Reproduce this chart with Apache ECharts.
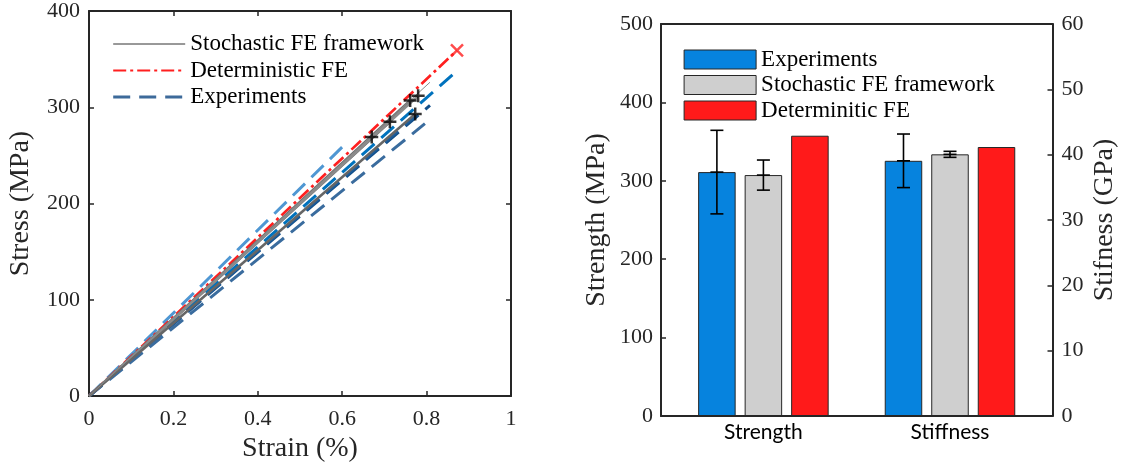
<!DOCTYPE html>
<html><head><meta charset="utf-8">
<script src="https://cdn.jsdelivr.net/npm/echarts@6/dist/echarts.min.js"></script>
<style>html,body{margin:0;padding:0;background:#fff}#c{width:1123px;height:468px}</style>
</head><body><div id="c"></div>
<script>
// ---------- Left panel data (stress-strain) ----------
const strainTicks = [0, 0.2, 0.4, 0.6, 0.8, 1];
const stressTicks = [0, 100, 200, 300, 400];
// Experiments: straight curves from origin to failure point
const expStrain = [0.603, 0.870, 0.808, 0.776, 0.796];
const expStress = [260, 337, 302, 292, 283];
// Deterministic FE end point
const detStrain = [0, 0.872];
const detStress = [0, 359];
// Stochastic FE realisations (end points)
const stochStrain = [0.670, 0.713, 0.761, 0.780, 0.773, 0.808];
const stochStress = [269, 285, 307, 312, 293, 326];
const stochFailed = [true, true, true, true, true, false];

// ---------- Right panel data (bars) ----------
const barCategories = ['Strength', 'Stiffness'];
const groupNames = ['Experiments', 'Stochastic FE framework', 'Determinitic FE'];
const strengthMean = [311.1, 307.3, 357.5];
const strengthErr = [53.3, 19.2, null];
const stiffnessMean = [39.06, 40.05, 41.17];
const stiffnessErr = [4.1, 0.46, null];

// ---------- styles ----------
const SERIF = 'Liberation Serif';
const INK = '#262626';
const expColors = ['#4f97d3', '#0072bd', '#124f8a', '#1d5d9b', '#3a6c9e'];
const stochColors = ['#7a7a7a', '#5c5c5c', '#6e6e6e', '#8c8c8c', '#666666', '#8a8a8a'];
const barColors = ['#0683de', '#cfcfcf', '#ff1a1a'];
const BAR_W = 0.201, BAR_GAP = 0.24, CAP = 13;

const series = [];
// Experiments
expStrain.forEach((s, i) => {
  series.push({
    type: 'line', name: 'Experiments', xAxisIndex: 0, yAxisIndex: 0,
    data: [[0, 0], [s, expStress[i]]], symbol: 'none', silent: true,
    lineStyle: { color: expColors[i], width: 3, type: [17, 9], cap: 'butt' }, z: 2
  });
});
// Deterministic
series.push({
  type: 'line', name: 'Deterministic FE', xAxisIndex: 0, yAxisIndex: 0,
  data: detStrain.map((s, i) => [s, detStress[i]]), symbol: 'none', silent: true,
  lineStyle: { color: '#ff1f1f', width: 2.7, type: [13, 4, 3, 4] }, z: 3
});
series.push({
  type: 'scatter', name: 'detEnd', xAxisIndex: 0, yAxisIndex: 0, silent: true,
  data: [[detStrain[1], detStress[1]]],
  symbol: 'path://M-1,-1L1,1M-1,1L1,-1', symbolSize: 12,
  itemStyle: { color: 'none', borderColor: '#ff1f1f', borderWidth: 2.5 }, z: 5
});
// Stochastic
stochStrain.forEach((s, i) => {
  series.push({
    type: 'line', name: 'Stochastic FE framework', xAxisIndex: 0, yAxisIndex: 0,
    data: [[0, 0], [s, stochStress[i]]], symbol: 'none', silent: true,
    lineStyle: { color: stochColors[i], width: i === 5 ? 1 : 2.6 }, z: 4
  });
});
series.push({
  type: 'scatter', name: 'stochEnd', xAxisIndex: 0, yAxisIndex: 0, silent: true,
  data: stochStrain.map((s, i) => [s, stochStress[i]]).filter((d, i) => stochFailed[i]),
  symbol: 'path://M0,-1L0,1M-1,0L1,0', symbolSize: 13,
  itemStyle: { color: 'none', borderColor: '#000', borderWidth: 2.5 }, z: 6
});

// Bars
groupNames.forEach((g, i) => {
  series.push({
    type: 'bar', name: 'bar:' + g, xAxisIndex: 2, yAxisIndex: 2,
    data: [strengthMean[i], '-'], barWidth: (BAR_W * 100) + '%', barGap: (BAR_GAP * 100) + '%',
    itemStyle: { color: barColors[i], borderColor: INK, borderWidth: 1 }, silent: true
  });
});
groupNames.forEach((g, i) => {
  series.push({
    type: 'bar', name: 'bar:' + g, xAxisIndex: 3, yAxisIndex: 3,
    data: ['-', stiffnessMean[i]], barWidth: (BAR_W * 100) + '%', barGap: (BAR_GAP * 100) + '%',
    itemStyle: { color: barColors[i], borderColor: INK, borderWidth: 1 }, silent: true
  });
});

function errRender(params, api) {
  const cat = api.value(0), mean = api.value(1), err = api.value(2), slot = api.value(3);
  const band = api.size([1, 0])[0];
  const bw = band * BAR_W;
  const step = bw * (1 + BAR_GAP);
  const c = api.coord([cat, mean]);
  const x = c[0] + (slot - 1) * step;
  const yT = api.coord([cat, mean + err])[1];
  const yB = api.coord([cat, mean - err])[1];
  const ym = c[1];
  const st = { stroke: '#000', lineWidth: 1.6 };
  const h = CAP / 2;
  return { type: 'group', children: [
    { type: 'line', shape: { x1: x, y1: yT, x2: x, y2: yB }, style: st },
    { type: 'line', shape: { x1: x - h, y1: yT, x2: x + h, y2: yT }, style: st },
    { type: 'line', shape: { x1: x - h, y1: yB, x2: x + h, y2: yB }, style: st },
    { type: 'line', shape: { x1: x - h, y1: ym, x2: x + h, y2: ym }, style: st }
  ]};
}
const strengthErrData = [], stiffnessErrData = [];
groupNames.forEach((g, i) => {
  if (strengthErr[i] != null) strengthErrData.push([0, strengthMean[i], strengthErr[i], i]);
  if (stiffnessErr[i] != null) stiffnessErrData.push([1, stiffnessMean[i], stiffnessErr[i], i]);
});
series.push({ type: 'custom', name: 'errS', xAxisIndex: 2, yAxisIndex: 2, renderItem: errRender,
  data: strengthErrData, silent: true, z: 10 });
series.push({ type: 'custom', name: 'errK', xAxisIndex: 3, yAxisIndex: 3, renderItem: errRender,
  data: stiffnessErrData, silent: true, z: 10 });

const tickLbl = { fontFamily: SERIF, fontSize: 22, color: INK };
const titleTxt = { fontFamily: SERIF, fontSize: 28, color: INK };
const axLine = { show: true, onZero: false, lineStyle: { color: INK, width: 2 } };
const noLine = { show: false, onZero: false };
const inTick = { show: true, inside: true, length: 5, lineStyle: { color: INK, width: 1.5 } };
const noSplit = { show: false };

const option = {
  animation: false,
  backgroundColor: '#fff',
  grid: [
    { left: 89, top: 10, width: 422, height: 387 },          // left panel
    { left: 670.1, top: 24, width: 373.2, height: 392 },     // bars data area
    { left: 661, top: 24, width: 391.5, height: 392 }        // right frame
  ],
  xAxis: [
    { gridIndex: 0, type: 'value', min: 0, max: 1, interval: 0.2, position: 'bottom',
      axisLine: axLine, axisTick: inTick,
      axisLabel: Object.assign({ margin: 12 }, tickLbl), splitLine: noSplit,
      name: 'Strain (%)', nameLocation: 'middle', nameGap: 36, nameTextStyle: titleTxt },
    { gridIndex: 0, type: 'value', min: 0, max: 1, interval: 0.2, position: 'top',
      axisLine: axLine, axisTick: inTick,
      axisLabel: { show: false }, splitLine: noSplit },
    { gridIndex: 1, type: 'category', data: barCategories, position: 'bottom',
      axisLine: noLine, axisTick: { show: false },
      axisLabel: { margin: 6, fontFamily: 'Lato', fontSize: 21, color: '#000' } },
    { gridIndex: 1, type: 'category', data: barCategories, show: false, axisLine: noLine },
    { gridIndex: 2, type: 'value', min: 0, max: 1, position: 'bottom', z: 20,
      axisLine: axLine, axisTick: { show: false }, axisLabel: { show: false }, splitLine: noSplit },
    { gridIndex: 2, type: 'value', min: 0, max: 1, position: 'top', z: 20,
      axisLine: axLine, axisTick: { show: false }, axisLabel: { show: false }, splitLine: noSplit }
  ],
  yAxis: [
    { gridIndex: 0, type: 'value', min: 0, max: 400, interval: 100, position: 'left',
      axisLine: axLine, axisTick: inTick,
      axisLabel: Object.assign({ margin: 9 }, tickLbl), splitLine: noSplit,
      name: 'Stress (MPa)', nameLocation: 'middle', nameRotate: 90, nameGap: 54, nameTextStyle: titleTxt },
    { gridIndex: 0, type: 'value', min: 0, max: 400, interval: 100, position: 'right',
      axisLine: axLine, axisTick: inTick,
      axisLabel: { show: false }, splitLine: noSplit },
    { gridIndex: 1, type: 'value', min: 0, max: 500, interval: 100, position: 'left', offset: 9.1,
      axisLine: noLine, axisTick: inTick,
      axisLabel: Object.assign({ margin: 8 }, tickLbl), splitLine: noSplit,
      name: 'Strength (MPa)', nameLocation: 'middle', nameRotate: 90, nameGap: 50, nameTextStyle: titleTxt },
    { gridIndex: 1, type: 'value', min: 0, max: 60, interval: 10, position: 'right', offset: 9.2,
      axisLine: noLine, axisTick: inTick,
      axisLabel: Object.assign({ margin: 9 }, tickLbl), splitLine: noSplit,
      name: 'Stifness (GPa)', nameLocation: 'middle', nameRotate: 90, nameGap: 38, nameTextStyle: titleTxt },
    { gridIndex: 2, type: 'value', min: 0, max: 1, position: 'left', z: 20,
      axisLine: axLine, axisTick: { show: false }, axisLabel: { show: false }, splitLine: noSplit },
    { gridIndex: 2, type: 'value', min: 0, max: 1, position: 'right', z: 20,
      axisLine: axLine, axisTick: { show: false }, axisLabel: { show: false }, splitLine: noSplit }
  ],
  legend: [
    { left: 111.7, top: 32.5, padding: 0, orient: 'vertical', itemWidth: 72, itemHeight: 14, itemGap: 3.5,
      selectedMode: false, itemStyle: { opacity: 0 },
      textStyle: { fontFamily: SERIF, fontSize: 23, lineHeight: 23, color: '#000' },
      data: [
        { name: 'Stochastic FE framework', lineStyle: { color: '#333333', width: 1, type: 'solid' } },
        { name: 'Deterministic FE' },
        { name: 'Experiments', lineStyle: { color: '#3d6a9a', width: 3 } }
      ] },
    { left: 683.6, top: 48, padding: 0, orient: 'vertical', itemWidth: 72, itemHeight: 19, itemGap: 2.5,
      selectedMode: false, icon: 'rect',
      itemStyle: { borderColor: INK, borderWidth: 1 },
      formatter: n => n.slice(4),
      textStyle: { fontFamily: SERIF, fontSize: 23, lineHeight: 23, color: '#000' },
      data: groupNames.map(g => 'bar:' + g) }
  ],
  series: series
};
const chart = echarts.init(document.getElementById('c'), null, { renderer: 'canvas' });
chart.setOption(option);
</script></body></html>
